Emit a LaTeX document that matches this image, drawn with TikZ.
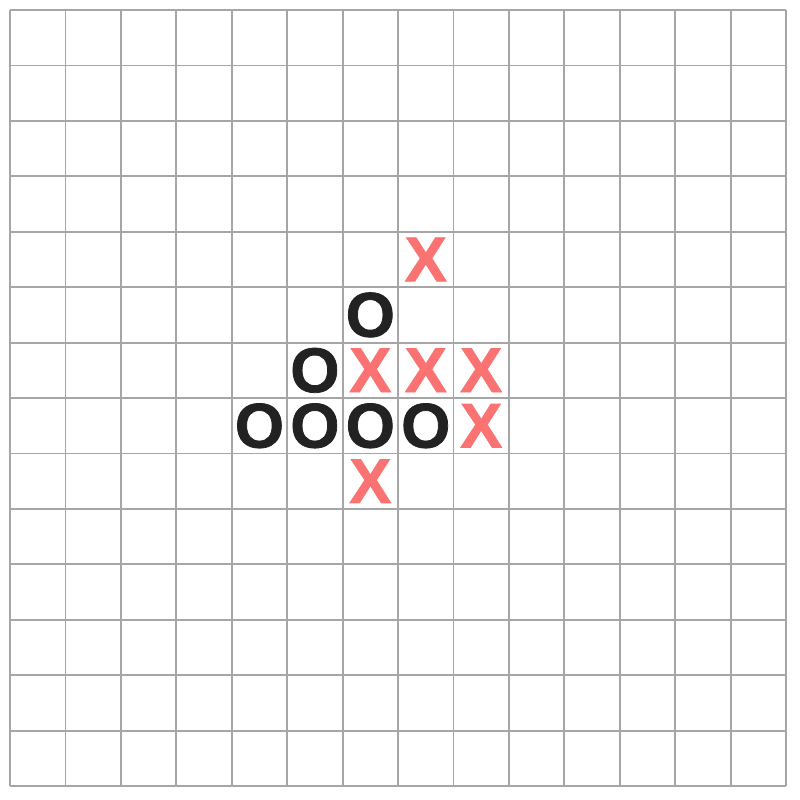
\documentclass[tikz,border=0pt]{standalone}
\usepackage{fontspec}
\setmainfont{Liberation Sans}
\newfontfamily\markfont[FakeBold=1.2]{Liberation Sans Bold}
\usetikzlibrary{positioning}
\definecolor{gridline}{HTML}{A6A6A6}
\definecolor{cross}{HTML}{FA7272}
\definecolor{nought}{HTML}{222222}
\begin{document}
\begin{tikzpicture}[x=1.3858cm,y=-1.3858cm,
  xmark/.style={text=cross,font=\markfont\fontsize{45}{45}\selectfont,inner sep=0pt},
  omark/.style={text=nought,font=\markfont\fontsize{45}{45}\selectfont,inner sep=0pt}]
  \useasboundingbox[fill=white] (-0.18,-0.18) rectangle (14.25,14.25);
  \foreach \i in {0,...,14}{
    \draw[gridline,line width=1.3pt] (\i,0) -- (\i,14);
    \draw[gridline,line width=1.3pt] (0,\i) -- (14,\i);
  }
  % noughts
  \node[omark] (o65) at (6.5,5.5){O};
  \node[omark] (o56) at (5.5,6.5){O};
  \node[omark] (o47) at (4.5,7.5){O};
  \node[omark] (o57) at (5.5,7.5){O};
  \node[omark] (o67) at (6.5,7.5){O};
  \node[omark] (o77) at (7.5,7.5){O};
  % crosses
  \node[xmark] (x74) at (7.5,4.5){X};
  \node[xmark] (x66) at (6.5,6.5){X};
  \node[xmark] (x76) at (7.5,6.5){X};
  \node[xmark] (x86) at (8.5,6.5){X};
  \node[xmark] (x87) at (8.5,7.5){X};
  \node[xmark] (x68) at (6.5,8.5){X};
\end{tikzpicture}
\end{document}
